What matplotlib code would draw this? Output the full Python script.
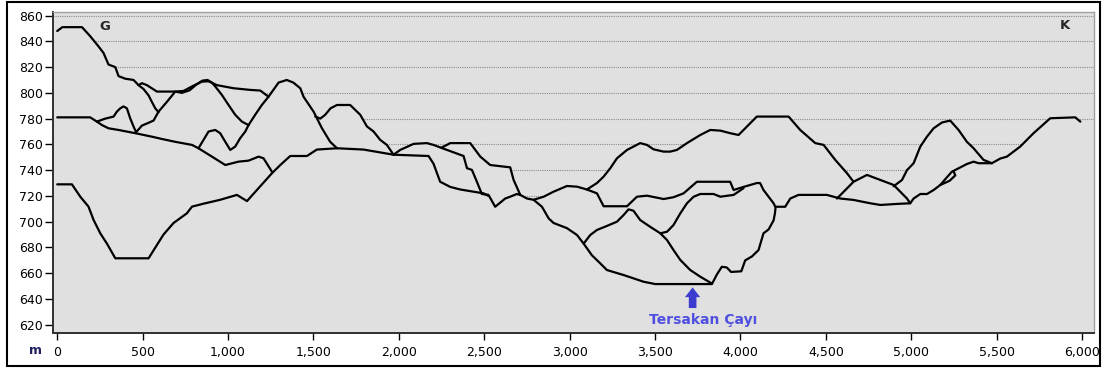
import numpy as np
import matplotlib.pyplot as plt
from matplotlib.patches import Rectangle

# =========================================================
# Profile data: distance (m) and elevation (m)
# =========================================================

g_x = [0, 30, 145, 193, 242, 271, 300, 340, 359, 398, 447, 476, 496, 525, 584, 691, 740, 789, 847, 886, 935, 1032, 1130, 1189, 1237]
g_z = [848, 851, 851, 844, 836, 831, 822, 820, 813, 811, 810, 806, 807.5, 806, 801, 801, 801.5, 805, 808.7, 809, 806, 803.6, 802.3, 801.8, 797]

branch_x = [476, 505, 535, 554, 574, 593]
branch_z = [806, 803, 798, 793, 788, 785]

c_x = [0, 193, 232, 262, 300, 359, 457, 554, 613, 691, 789, 827, 906, 984, 1061, 1120, 1179, 1208, 1257]
c_z = [781, 781, 777.7, 775, 772.5, 771.2, 768.7, 766, 764.2, 762, 759.6, 757, 750.5, 744, 746.6, 747.4, 750.5, 749.2, 738.8]

spike_x = [232, 281, 330, 349, 369, 388, 408, 427, 447, 462, 496, 530, 564, 593, 642, 691, 730, 775, 815, 850, 880, 905]
spike_z = [777.7, 780, 781.6, 785.4, 788, 789.5, 788, 780.3, 773.8, 769.5, 774.6, 776.5, 778.5, 785.4, 793, 801, 800, 802, 806.5, 809.5, 810, 808]

desc_x = [905, 925, 964, 1003, 1042, 1081, 1120]
desc_z = [808, 805, 798.4, 790.6, 783, 777.7, 775]

v_x = [827, 886, 925, 954, 984, 1013, 1042, 1071, 1101, 1120]
v_z = [757, 770, 771.2, 768.7, 762, 755.7, 758.3, 764.8, 770, 775]

peak_x = [1120, 1159, 1198, 1237, 1296, 1344, 1382, 1423, 1442, 1501, 1550, 1598, 1638]
peak_z = [775, 783, 790.6, 797, 808, 810, 808, 803.6, 797, 785.4, 772.5, 762, 757]

hill_x = [1511, 1540, 1569, 1600, 1638, 1715, 1774, 1813, 1852, 1891, 1930, 1969]
hill_z = [781.6, 780, 783, 788, 790.6, 790.6, 783, 774, 770, 763.5, 759.6, 752]

d_x = [0, 86, 135, 183, 213, 252, 291, 340, 535, 584, 622, 681, 759, 789, 857, 954, 1052, 1111, 1169, 1257,
       1306, 1364, 1462, 1520, 1638, 1793, 1969, 2174, 2203, 2242, 2301, 2360, 2496, 2525]
d_z = [729, 729, 719.4, 711.7, 701.3, 691, 683, 671.6, 671.6, 682, 690, 699, 706.5, 711.7, 714, 717, 720.8, 716, 724.6, 737.6,
       744, 751, 751, 756, 757, 756, 752, 751, 745, 731, 727, 725, 722, 720]

main_x = [1969, 2008, 2086, 2164, 2203, 2282, 2379, 2399, 2428, 2457, 2486, 2525, 2564, 2623, 2652, 2691, 2711, 2750,
          2789, 2848, 2906, 2984, 3043, 3101, 3160, 3199, 3336, 3394, 3453, 3550, 3608, 3667, 3745, 3940, 3960,
          4018, 4096, 4115, 4135, 4194, 4204, 4262, 4292, 4340, 4506, 4584, 4662, 4760, 4819, 4916, 4994, 5014,
          5053, 5092, 5131, 5170, 5209, 5238, 5326, 5365, 5394, 5472, 5521, 5560, 5638, 5716, 5814, 5960, 5990]
main_z = [752, 755.7, 760.4, 761, 759.6, 755.7, 751, 741.5, 740.2, 731, 721.5, 720.8, 711.6, 718, 719.4, 721.5, 720.8, 718,
          717, 719.4, 723.3, 727.7, 727.2, 725, 722, 712, 712, 719.4, 720.2, 717.6, 719, 722, 731, 731, 724.6,
          727, 730, 730, 724.6, 714.3, 711.6, 711.6, 718, 720.8, 720.8, 718, 716.9, 714.3, 713, 713.8, 714.3, 718,
          721.5, 721.5, 724.6, 728.5, 734.5, 738.8, 744.8, 746.6, 745.4, 745.4, 749, 750.5, 758.3, 768.7, 780.3, 781, 777.7]

lens_x = [2250, 2262, 2301, 2418, 2477, 2535, 2652, 2672, 2711]
lens_z = [757.5, 758.3, 761, 761, 750.5, 744, 742.2, 732.4, 720.8]

valley_x = [2789, 2838, 2877, 2906, 2984, 3043, 3082, 3130, 3179, 3218, 3316, 3433, 3501, 3833, 3862, 3891, 3920,
            3945, 4005, 4028, 4067, 4106, 4135, 4165, 4194, 4202, 4206]
valley_z = [717, 711.6, 702.6, 699, 695, 689.7, 683, 674, 667.7, 662.5, 658.6, 653.4, 651.6, 651.6, 659, 665, 664.5,
            661, 661.5, 670, 673, 678, 691, 694, 701, 706.5, 711.6]

rise_x = [3082, 3121, 3160, 3218, 3277, 3316, 3345, 3374, 3413, 3472, 3531, 3570, 3608, 3648, 3687, 3726, 3765,
          3843, 3882, 3960, 4018]
rise_z = [683, 689.7, 693.6, 696.7, 700, 705.2, 709.6, 708.5, 701.3, 696, 691, 692.2, 697.4, 706.5, 714.3, 719.4, 721.5,
          721.5, 719.4, 720.8, 726]

drop_x = [3531, 3570, 3608, 3648, 3706, 3765, 3833]
drop_z = [691, 685.8, 678, 670.3, 662.5, 657.3, 652]

ridge_x = [3101, 3160, 3199, 3238, 3277, 3336, 3413, 3453, 3491, 3550, 3589, 3628, 3687, 3765, 3823, 3882, 3940,
           3989, 4096, 4282, 4350, 4438, 4487, 4555, 4624, 4662, 4741, 4819, 4897, 4975, 4994]
ridge_z = [725, 730, 735, 741.5, 749.2, 755.7, 761, 759.6, 756.2, 754.4, 754.4, 755.7, 761, 767.3, 771.2, 770.7, 768.7,
           767.3, 781.6, 781.6, 771.2, 761, 759.6, 748, 737.6, 731, 736.3, 732.4, 728.5, 718, 714.3]

fork_x = [4565, 4610, 4662]
fork_z = [718, 724, 731]

east_x = [4897, 4946, 4975, 5014, 5053, 5092, 5131, 5180, 5228, 5277, 5326, 5365, 5423, 5472]
east_z = [727.5, 732.4, 740, 745.4, 758.3, 766, 772.5, 777, 778.5, 771.2, 762, 757, 748, 745.4]

loop_x = [5170, 5225, 5258, 5248]
loop_z = [728.5, 731.8, 736, 739]

profiles = [(g_x, g_z), (branch_x, branch_z), (c_x, c_z), (spike_x, spike_z), (desc_x, desc_z),
            (v_x, v_z), (peak_x, peak_z), (hill_x, hill_z), (d_x, d_z), (main_x, main_z),
            (lens_x, lens_z), (valley_x, valley_z), (rise_x, rise_z), (drop_x, drop_z),
            (ridge_x, ridge_z), (fork_x, fork_z), (east_x, east_z)]

xticks = np.arange(0, 6001, 500)
yticks = np.arange(620, 861, 20)

# =========================================================
# Figure
# =========================================================

W, H = 1105, 369
fig = plt.figure(figsize=(W / 100, H / 100), dpi=100)
ax = fig.add_axes([53.3 / W, 1 - 332.5 / H, (1094 - 53.3) / W, (332.5 - 11.7) / H])

bg = '#e0e0e0'
ax.set_facecolor(bg)
ax.set_xlim(-23, 6070)
ax.set_ylim(614, 863)

ax.set_yticks(yticks)
ax.set_xticks(xticks)
ax.set_xticklabels([f"{v:,}" for v in xticks])

ax.yaxis.grid(True, linestyle=(0, (1, 1)), color='#8a8a8a', linewidth=0.8)
ax.set_axisbelow(True)

# hide the grid below the upper envelope of all profiles
grid = np.linspace(-23, 6070, 5000)
env = np.full_like(grid, -np.inf)
for xs, zs in profiles:
    env = np.maximum(env, np.interp(grid, xs, zs, left=-np.inf, right=-np.inf))
ok = np.isfinite(env)
env = np.interp(grid, grid[ok], env[ok])
ax.fill_between(grid, 600, env, color=bg, lw=0, zorder=1)

for xs, zs in profiles + [(loop_x, loop_z)]:
    ax.plot(xs, zs, color='black', lw=1.6, zorder=2,
            solid_joinstyle='round', solid_capstyle='round')

# =========================================================
# Axes styling
# =========================================================

for s in ['left', 'bottom']:
    ax.spines[s].set_color('#303030')
    ax.spines[s].set_linewidth(1.4)
for s in ['top', 'right']:
    ax.spines[s].set_color('#a0a0a0')
    ax.spines[s].set_linewidth(1.0)

ax.tick_params(axis='y', direction='out', length=6, width=1, pad=1.5,
               labelsize=9, colors='black')
ax.tick_params(axis='x', direction='out', length=5, width=1, pad=5,
               labelsize=9, colors='black')
# last label sits a bit left in the original
ax.get_xticklabels()[-1].set_horizontalalignment('center')
ax.get_xticklabels()[-1].set_x(5970)

# =========================================================
# Labels
# =========================================================

ax.text(281, 851.5, 'G', fontsize=9.5, fontweight='bold', color='#262626',
        ha='center', va='center', zorder=3)
ax.text(5902, 852.5, 'K', fontsize=9.5, fontweight='bold', color='#262626',
        ha='center', va='center', zorder=3)
fig.text(35 / W, 1 - 351 / H, 'm', fontsize=9, fontweight='bold', color='#202060',
         ha='center', va='center')

ax.annotate('', xy=(3720, 649), xytext=(3720, 633),
            arrowprops=dict(arrowstyle='simple,head_length=0.7,head_width=1.1,tail_width=0.55',
                            color='#3c3cd0', lw=0, shrinkA=0, shrinkB=0), zorder=3)
ax.text(3781, 623.5, 'Tersakan Çayı', fontsize=10, fontweight='bold', color='#5050e0',
        ha='center', va='center', zorder=3)

# outer frame
fig.patches.append(Rectangle((7 / W, 1 - 366 / H), (1100 - 7) / W, (366 - 2) / H,
                             transform=fig.transFigure, fill=False,
                             edgecolor='black', linewidth=1.5))

fig.savefig('out.png', dpi=100)
